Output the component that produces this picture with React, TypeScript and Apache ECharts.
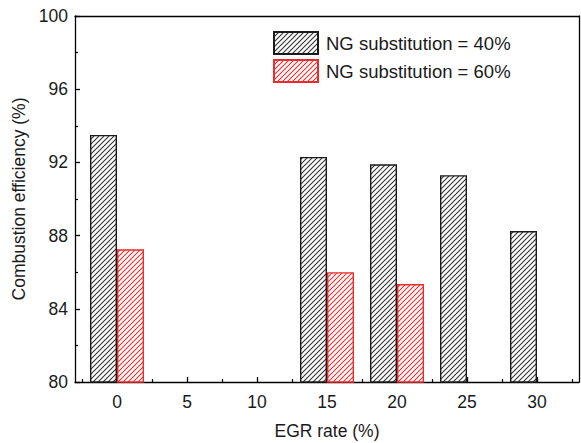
import React, { useEffect, useRef } from "react";
import * as echarts from "echarts";

// EGR rate (%) at each bar position
const egrRates = [0, 5, 10, 15, 20, 25, 30];
const minorTickRates = [-2.5, 2.5, 7.5, 12.5, 17.5, 22.5, 27.5, 32.5];

// Combustion efficiency (%) per NG substitution ratio
const ng40Rates = [0, 15, 20, 25, 30];
const ng40Values = [93.5, 92.3, 91.9, 91.3, 88.25];
const ng60Rates = [0, 15, 20];
const ng60Values = [87.25, 86.0, 85.35];

const seriesNames = ["NG substitution = 40%", "NG substitution = 60%"];

const FONT = "'Liberation Sans', Arial, sans-serif";

function makeHatch(color: string): HTMLCanvasElement {
  const s = 5;
  const c = document.createElement("canvas");
  c.width = s;
  c.height = s;
  const ctx = c.getContext("2d")!;
  ctx.fillStyle = "#ffffff";
  ctx.fillRect(0, 0, s, s);
  ctx.strokeStyle = color;
  ctx.lineWidth = 1.1;
  ctx.beginPath();
  ctx.moveTo(-1, s + 1);
  ctx.lineTo(s + 1, -1);
  ctx.moveTo(-1, 1);
  ctx.lineTo(1, -1);
  ctx.moveTo(s - 1, s + 1);
  ctx.lineTo(s + 1, s - 1);
  ctx.stroke();
  return c;
}

export default function App() {
  const ref = useRef<HTMLDivElement>(null);

  useEffect(() => {
    if (!ref.current) return;
    const chart = echarts.init(ref.current, undefined, { renderer: "svg" });

    const black = "#1a1a1a";
    const red = "#ee2a2a";
    const gridBox = {
      left: 75,
      top: 16,
      right: 2,
      bottom: 61,
      containLabel: false,
      outerBoundsMode: "none",
    };
    const frameLine = { show: true, onZero: false, lineStyle: { color: "#000", width: 1.3 } };

    chart.setOption({
      animation: false,
      backgroundColor: "#ffffff",
      textStyle: { fontFamily: FONT },
      grid: [{ ...gridBox }, { ...gridBox }],
      legend: {
        orient: "vertical",
        left: 273,
        top: 31,
        padding: 0,
        itemWidth: 44,
        itemHeight: 22,
        itemGap: 4,
        icon: "rect",
        textStyle: { fontFamily: FONT, fontSize: 18.5, color: "#1a1a1a", padding: [0, 0, 0, 3] },
        data: seriesNames,
      },
      xAxis: [
        {
          type: "value",
          gridIndex: 0,
          position: "bottom",
          min: -3,
          max: 33,
          name: "EGR rate (%)",
          nameLocation: "middle",
          nameGap: 40,
          nameTextStyle: { fontFamily: FONT, fontSize: 17.5, color: "#1a1a1a" },
          axisLine: frameLine,
          axisTick: {
            show: true,
            inside: true,
            length: 5,
            customValues: egrRates,
            lineStyle: { color: "#000", width: 1.3 },
          },
          axisLabel: {
            customValues: egrRates,
            fontFamily: FONT,
            fontSize: 17.5,
            color: "#1a1a1a",
            margin: 11,
          },
          splitLine: { show: false },
        },
        {
          type: "value",
          gridIndex: 0,
          position: "top",
          min: -3,
          max: 33,
          axisLine: frameLine,
          axisTick: { show: false },
          axisLabel: { show: false },
          splitLine: { show: false },
        },
        {
          type: "value",
          gridIndex: 1,
          position: "bottom",
          min: -3,
          max: 33,
          axisLine: { show: false, onZero: false },
          axisTick: {
            show: true,
            inside: true,
            length: 3,
            customValues: minorTickRates,
            lineStyle: { color: "#000", width: 1.2 },
          },
          axisLabel: { show: false },
          splitLine: { show: false },
        },
      ],
      yAxis: [
        {
          type: "value",
          gridIndex: 0,
          position: "left",
          min: 80,
          max: 100,
          interval: 4,
          name: "Combustion efficiency (%)",
          nameLocation: "middle",
          nameGap: 46,
          nameTextStyle: { fontFamily: FONT, fontSize: 17.5, color: "#1a1a1a" },
          axisLine: frameLine,
          axisTick: { show: true, inside: true, length: 5, lineStyle: { color: "#000", width: 1.3 } },
          minorTick: { show: true, splitNumber: 2, length: 3, lineStyle: { color: "#000", width: 1.2 } },
          axisLabel: { fontFamily: FONT, fontSize: 17.5, color: "#1a1a1a", margin: 7 },
          splitLine: { show: false },
        },
        {
          type: "value",
          gridIndex: 0,
          position: "right",
          min: 80,
          max: 100,
          interval: 4,
          axisLine: frameLine,
          axisTick: { show: false },
          axisLabel: { show: false },
          splitLine: { show: false },
        },
        {
          type: "value",
          gridIndex: 1,
          min: 80,
          max: 100,
          show: false,
        },
      ],
      series: [
        {
          name: seriesNames[0],
          type: "bar",
          xAxisIndex: 0,
          yAxisIndex: 0,
          barWidth: 27,
          barGap: "0%",
          data: ng40Rates.map((r, i) => [r, ng40Values[i]]),
          itemStyle: {
            color: { image: makeHatch("#333333"), repeat: "repeat" },
            borderColor: black,
            borderWidth: 1.4,
          },
        },
        {
          name: seriesNames[1],
          type: "bar",
          xAxisIndex: 0,
          yAxisIndex: 0,
          barWidth: 27,
          barGap: "0%",
          data: ng60Rates.map((r, i) => [r, ng60Values[i]]),
          itemStyle: {
            color: { image: makeHatch("#f03030"), repeat: "repeat" },
            borderColor: red,
            borderWidth: 1.4,
          },
        },
      ],
    });

    return () => chart.dispose();
  }, []);

  return <div ref={ref} style={{ width: 581, height: 443, position: "absolute", left: 0, top: 0 }} />;
}
